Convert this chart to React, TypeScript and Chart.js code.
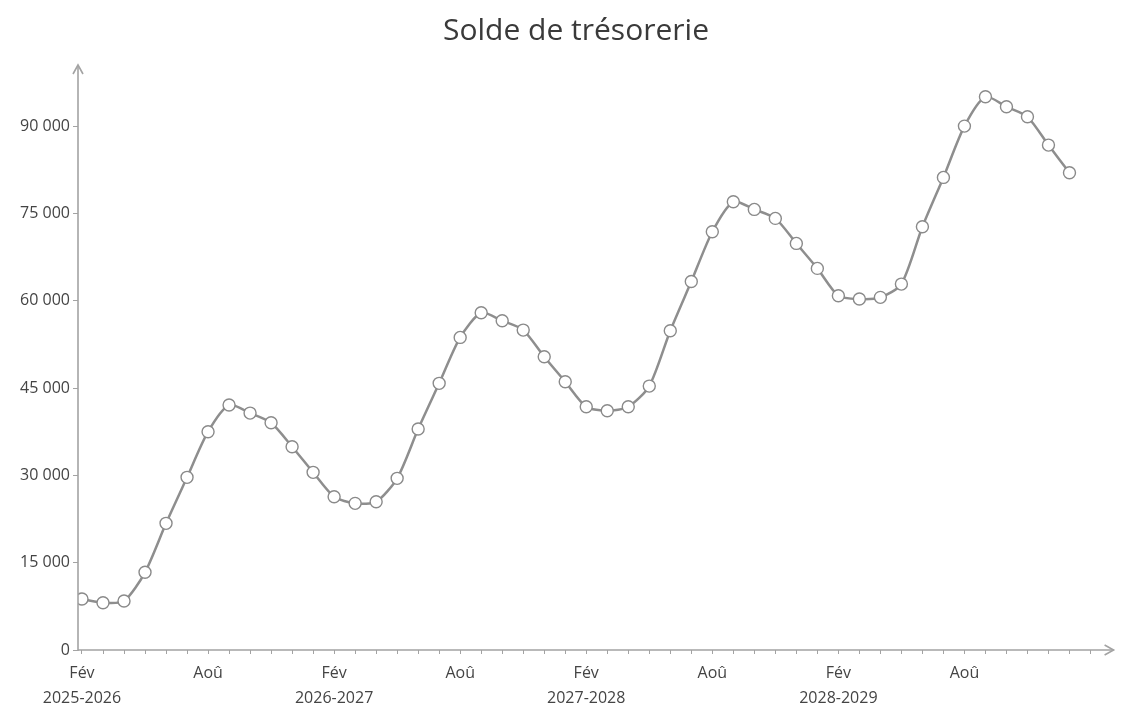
import React, { useEffect, useRef } from "react";
import { Chart, registerables } from "chart.js";

Chart.register(...registerables);

const chartTitle = "Solde de trésorerie";
const monthNames = ["Fév", "Mar", "Avr", "Mai", "Jui", "Jul", "Aoû", "Sep", "Oct", "Nov", "Déc", "Jan"];
const fiscalYears = ["2025-2026", "2026-2027", "2027-2028", "2028-2029"];
const shownMonths = ["Fév", "Aoû"];

const balance = [
  8760, 8120, 8420, 13350, 21760, 29660, 37500, 42080, 40700, 39040, 34920, 30520,
  26330, 25190, 25470, 29490, 37960, 45810, 53700, 57940, 56560, 54960, 50380, 46090,
  41790, 41100, 41790, 45340, 54850, 63300, 71850, 77000, 75690, 74150, 69850, 65560,
  60860, 60290, 60580, 62860, 72710, 81190, 90000, 95040, 93320, 91600, 86740, 81980,
];

const yTicks = [0, 15000, 30000, 45000, 60000, 75000, 90000];

const AXIS = "#a3a3a3";
const FONT = "'Open Sans', sans-serif";

const fmt = (v: number) => String(v).replace(/\B(?=(\d{3})+(?!\d))/g, " ");

const decorPlugin = {
  id: "decor",
  afterDraw(chart: any) {
    const { ctx, chartArea } = chart;
    const { left, right, top, bottom } = chartArea;
    ctx.save();
    // title
    ctx.fillStyle = "#3a3a3a";
    ctx.font = `30px ${FONT}`;
    ctx.textAlign = "center";
    ctx.textBaseline = "middle";
    ctx.fillText(chartTitle, 576, 31);
    // axes with arrows
    ctx.strokeStyle = AXIS;
    ctx.lineWidth = 1.6;
    ctx.beginPath();
    ctx.moveTo(left, bottom + 1);
    ctx.lineTo(left, top);
    ctx.moveTo(left, bottom);
    ctx.lineTo(right, bottom);
    ctx.stroke();
    ctx.beginPath();
    ctx.moveTo(left - 5, top + 9);
    ctx.lineTo(left, top);
    ctx.lineTo(left + 5, top + 9);
    ctx.moveTo(right - 9, bottom - 5);
    ctx.lineTo(right, bottom);
    ctx.lineTo(right - 9, bottom + 5);
    ctx.stroke();
    ctx.restore();
  },
};

export default function App() {
  const ref = useRef<HTMLCanvasElement | null>(null);
  useEffect(() => {
    if (!ref.current) return;
    const chart = new Chart(ref.current, {
      type: "line",
      data: {
        datasets: [
          {
            label: chartTitle,
            data: balance.map((v, i) => ({ x: i, y: v })),
            borderColor: "#8e8e8e",
            borderWidth: 2.5,
            tension: 0.25,
            pointRadius: 6,
            pointBorderWidth: 1.4,
            pointBorderColor: "#8a8a8a",
            pointBackgroundColor: "#ffffff",
          },
        ],
      },
      options: {
        animation: false,
        responsive: true,
        maintainAspectRatio: false,
        layout: { padding: { left: 0, right: 4, top: 65, bottom: 0 } },
        plugins: {
          legend: { display: false },
          tooltip: { enabled: false },
          title: { display: false },
        },
        scales: {
          x: {
            type: "linear",
            min: -0.19,
            max: 49.1,
            border: { display: false },
            grid: { drawOnChartArea: false, tickLength: 4, color: AXIS },
            afterBuildTicks: (scale: any) => {
              scale.ticks = balance.concat([0]).map((_, i) => ({ value: i }));
            },
            afterFit: (scale: any) => {
              scale.height = 61;
            },
            ticks: {
              autoSkip: false,
              maxRotation: 0,
              padding: 7,
              color: "#444444",
              font: { family: FONT, size: 16, lineHeight: 1.55 },
              callback: (value: any) => {
                const i = Number(value);
                if (i >= balance.length) return "";
                const m = monthNames[i % 12];
                if (!shownMonths.includes(m)) return "";
                if (i % 12 === 0) return [m, fiscalYears[i / 12]];
                return m;
              },
            },
          },
          y: {
            min: 0,
            max: 100500,
            border: { display: false },
            grid: { drawOnChartArea: false, tickLength: 5, color: AXIS },
            afterBuildTicks: (scale: any) => {
              scale.ticks = yTicks.map((v) => ({ value: v }));
            },
            afterFit: (scale: any) => {
              scale.width = 78;
            },
            ticks: {
              padding: 3,
              color: "#444444",
              font: { family: FONT, size: 16 },
              callback: (value: any) => fmt(Number(value)),
            },
          },
        },
      },
      plugins: [decorPlugin],
    });
    return () => chart.destroy();
  }, []);
  return (
    <div style={{ position: "fixed", left: 0, top: 0, width: 1121, height: 711, background: "#ffffff" }}>
      <canvas ref={ref} />
    </div>
  );
}
